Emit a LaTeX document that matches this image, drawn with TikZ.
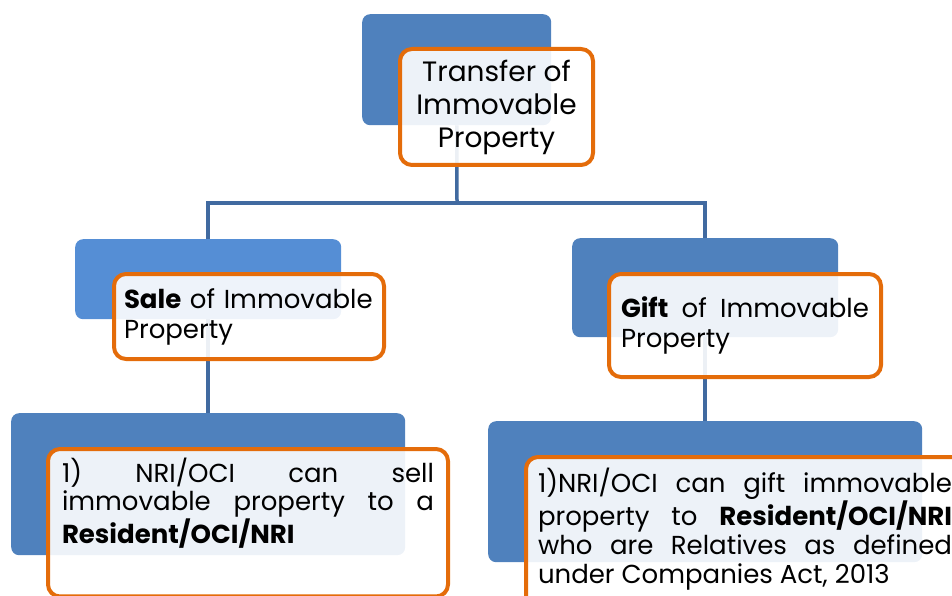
\documentclass[tikz,border=0pt]{standalone}
\usepackage{fontspec}
\setmainfont{Poppins}
\usetikzlibrary{positioning}
\definecolor{boxblue}{RGB}{79,129,189}
\definecolor{boxlight}{RGB}{85,142,213}
\definecolor{linkblue}{RGB}{65,106,160}
\definecolor{rimorange}{RGB}{228,108,10}
\hyphenpenalty=10000
\tolerance=10000

\begin{document}
\begin{tikzpicture}[x=1pt, y=-1pt,
  back/.style={rectangle, rounded corners=8pt, fill=boxblue, anchor=north west, inner sep=0pt},
  front/.style={rectangle, rounded corners=12pt, draw=rimorange, line width=4pt, fill=white, fill opacity=0.9, text opacity=1, anchor=north west, align=justify},
  link/.style={draw=linkblue, line width=3.5pt},
]
  \useasboundingbox (0,0) rectangle (952,596);

  % blue blocks behind
  \node[back, minimum width=189pt, minimum height=111pt] (topback) at (362,14) {};
  \node[back, fill=boxlight, minimum width=266pt, minimum height=80pt] (saleback) at (75,239) {};
  \node[back, minimum width=266pt, minimum height=99pt] (giftback) at (572,238) {};
  \node[back, minimum width=394pt, minimum height=142pt] (sellback) at (11,413) {};
  \node[back, minimum width=434pt, minimum height=141pt] (rulesback) at (488,421) {};

  % connectors
  \coordinate (fork) at (457,203);
  \draw[link] (topback) -- (fork);
  \draw[link] (saleback.north) |- (fork) -| (giftback.north);
  \draw[link] (saleback) -- (sellback);
  \draw[link] (giftback) -- (rulesback);

  % orange boxes in front
  \node[front, align=center, font=\fontsize{28}{33}\selectfont, minimum width=193pt, minimum height=116pt] (topfront) at (398,47) {Transfer of\\Immovable\\Property};
  \node[front, align=left, font=\fontsize{26}{30}\selectfont, text width=250pt, inner xsep=10pt, minimum width=270pt, minimum height=85pt] (salefront) at (112,272) {\textbf{Sale} of Immovable Property};
  \node[front, font=\fontsize{26}{30}\selectfont, text width=248pt, inner xsep=12pt, minimum width=272pt, minimum height=103pt] (giftfront) at (607,272) {\textbf{Gift} of Immovable Property};
  \node[front, font=\fontsize{26}{28.5}\selectfont, text width=372pt, inner xsep=14pt, inner ysep=9pt, text depth=105pt] (sellfront) at (46,447) {1) NRI/OCI can sell\linebreak immovable property to a\linebreak \textbf{Resident/OCI/NRI}};
  \node[front, font=\fontsize{26}{29}\selectfont, text width=414pt, inner xsep=12pt, inner ysep=11pt, text depth=112pt] (rulesfront) at (524,455) {1)NRI/OCI can gift immovable\linebreak property to \textbf{Resident/OCI/NRI}\linebreak who are Relatives as defined\linebreak under Companies Act, 2013};
\end{tikzpicture}
\end{document}
